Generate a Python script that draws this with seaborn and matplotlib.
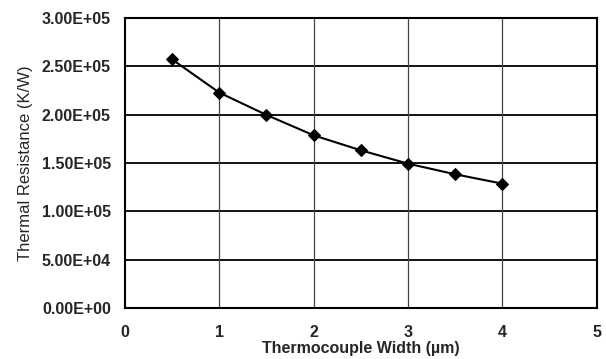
import matplotlib
matplotlib.use("Agg")
import matplotlib.pyplot as plt
import seaborn as sns
import pandas as pd
from matplotlib.ticker import FuncFormatter

# thermocouple width (um) vs thermal resistance (K/W)
width_um = [0.5, 1.0, 1.5, 2.0, 2.5, 3.0, 3.5, 4.0]
resistance = [2.572e5, 2.228e5, 1.997e5, 1.786e5, 1.631e5, 1.493e5, 1.383e5, 1.286e5]

x_ticks = [0, 1, 2, 3, 4, 5]
y_ticks = [0, 5e4, 1e5, 1.5e5, 2e5, 2.5e5, 3e5]

sns.set_style("white")
plt.rcParams['font.family'] = ['Liberation Sans', 'DejaVu Sans']

df = pd.DataFrame({"width": width_um, "R": resistance})

fig = plt.figure(figsize=(6.06, 3.59), dpi=100)
ax = fig.add_axes([0.206, 0.142, 0.779, 0.808])

sns.lineplot(data=df, x="width", y="R", ax=ax, color="black", linewidth=1.5,
             marker="D", markersize=6, markeredgecolor="black", zorder=3)

ax.set_xlim(0, 5)
ax.set_ylim(0, 3e5)
ax.set_xticks(x_ticks)
ax.set_yticks(y_ticks)
ax.yaxis.set_major_formatter(FuncFormatter(lambda v, p: f"{v:.2E}"))

# excel style grid
for y in y_ticks[1:-1]:
    ax.axhline(y, color="black", linewidth=1.3, zorder=1)
for x in x_ticks[1:-1]:
    ax.axvline(x, color="#444444", linewidth=0.9, zorder=1)

for s in ax.spines.values():
    s.set_color("black")
    s.set_linewidth(1.5)

ax.tick_params(length=0, labelsize=11.5)
ax.tick_params(axis="x", pad=12)
ax.tick_params(axis="y", pad=10)
for lab in ax.get_xticklabels() + ax.get_yticklabels():
    lab.set_fontweight("bold")

ax.set_xlabel("Thermocouple Width (\u00b5m)", fontsize=11.5, fontweight="bold", labelpad=1)
ax.set_ylabel("Thermal Resistance (K/W)", fontsize=12, labelpad=6)

fig.savefig("out.png", dpi=100)
